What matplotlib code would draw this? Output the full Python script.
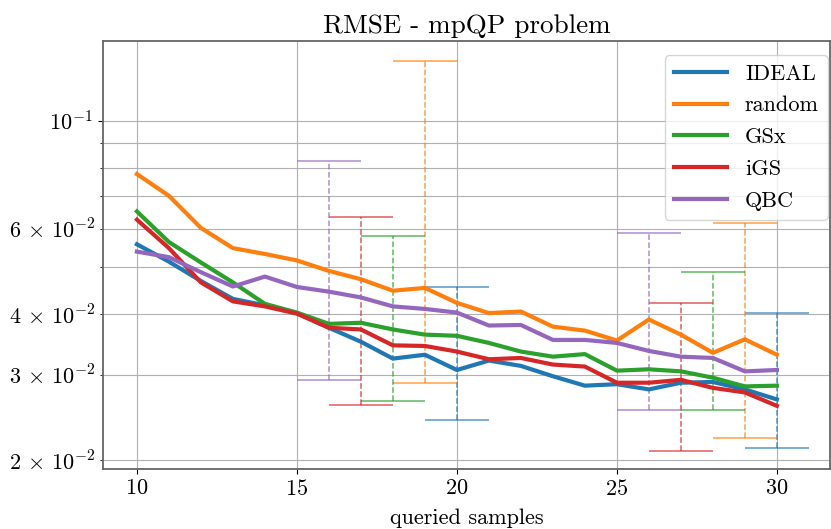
import matplotlib
matplotlib.use("Agg")
import matplotlib.pyplot as plt
import matplotlib.ticker as mticker
import numpy as np

# queried samples
samples = list(range(10, 31))

ideal = [0.0557, 0.0513, 0.0468, 0.0430, 0.0417, 0.0402, 0.0375, 0.0351, 0.0324, 0.0330, 0.0307,
         0.0321, 0.0313, 0.0298, 0.0285, 0.0287, 0.0280, 0.0289, 0.0290, 0.0280, 0.0267]
rand = [0.0777, 0.0701, 0.0602, 0.0547, 0.0532, 0.0516, 0.0491, 0.0472, 0.0447, 0.0453, 0.0422,
        0.0402, 0.0405, 0.0377, 0.0370, 0.0353, 0.0390, 0.0363, 0.0333, 0.0355, 0.0330]
gsx = [0.0651, 0.0563, 0.0511, 0.0465, 0.0420, 0.0403, 0.0382, 0.0384, 0.0372, 0.0363, 0.0361,
       0.0349, 0.0335, 0.0327, 0.0331, 0.0306, 0.0308, 0.0305, 0.0296, 0.0284, 0.0285]
igs = [0.0626, 0.0547, 0.0465, 0.0425, 0.0415, 0.0401, 0.0375, 0.0372, 0.0345, 0.0344, 0.0335,
       0.0323, 0.0325, 0.0315, 0.0312, 0.0289, 0.0289, 0.0293, 0.0282, 0.0276, 0.0259]
qbc = [0.0538, 0.0524, 0.0488, 0.0456, 0.0478, 0.0455, 0.0445, 0.0433, 0.0415, 0.0410, 0.0403,
       0.0379, 0.0380, 0.0354, 0.0354, 0.0349, 0.0336, 0.0327, 0.0325, 0.0305, 0.0307]

labels = ["IDEAL", "random", "GSx", "iGS", "QBC"]
series = [ideal, rand, gsx, igs, qbc]
colors = ["tab:blue", "tab:orange", "tab:green", "tab:red", "tab:purple"]

# spread bars: (x position, low, high) per method, two groups
err_x = [[20, 30], [19, 29], [18, 28], [17, 27], [16, 26]]
err_lo = [[0.02425, 0.02117], [0.0288, 0.02224], [0.02646, 0.02543], [0.02596, 0.02094], [0.0293, 0.02543]]
err_hi = [[0.0454, 0.0402], [0.1327, 0.0616], [0.0578, 0.04875], [0.0635, 0.04215], [0.0825, 0.0589]]

# which minor mantissas get a label
minor_labeled = [2, 3, 4, 6]

plt.rcParams["font.family"] = "serif"
plt.rcParams["font.serif"] = ["cmr10", "DejaVu Serif"]
plt.rcParams["mathtext.fontset"] = "cm"
plt.rcParams["axes.formatter.use_mathtext"] = True

fig = plt.figure(figsize=(8.31, 5.29), dpi=100)
ax = fig.add_axes([103 / 831, 1 - 469 / 529, 727 / 831, 428 / 529])

for lab, ys, c in zip(labels, series, colors):
    ax.plot(samples, ys, color=c, linewidth=3, label=lab, zorder=3)

for i, c in enumerate(colors):
    for x, lo, hi in zip(err_x[i], err_lo[i], err_hi[i]):
        ax.vlines(x, lo, hi, colors=c, linestyles="--", linewidth=1.1, alpha=0.75, zorder=2)
        ax.hlines([lo, hi], x - 1, x + 1, colors=c, linewidth=1.1, alpha=0.75, zorder=2)

ax.set_yscale("log")
ax.set_ylim(0.0192, 0.146)
ax.set_xlim(8.94, 31.66)
ax.set_xticks([10, 15, 20, 25, 30])


def minor_fmt(v, pos):
    e = int(np.floor(np.log10(v) + 1e-9))
    m = int(round(v / 10 ** e))
    if m in minor_labeled:
        return r"$%d\,\times\,10^{%d}$" % (m, e)
    return ""


ax.yaxis.set_minor_formatter(mticker.FuncFormatter(minor_fmt))

ax.grid(True, which="both", color="#b0b0b0", linewidth=0.8)
ax.set_axisbelow(True)
for sp in ax.spines.values():
    sp.set_color("0.4")
    sp.set_linewidth(1.3)
ax.tick_params(which="both", labelsize=16)

ax.set_title("RMSE - mpQP problem", fontsize=19.5)
ax.set_xlabel("queried samples", fontsize=16, labelpad=7)

ax.legend(loc="upper right", bbox_to_anchor=(0.997, 0.967), borderaxespad=0,
          fontsize=16, handlelength=2.4, labelspacing=0.55, framealpha=0.8)

fig.savefig("out.png", dpi=100)
